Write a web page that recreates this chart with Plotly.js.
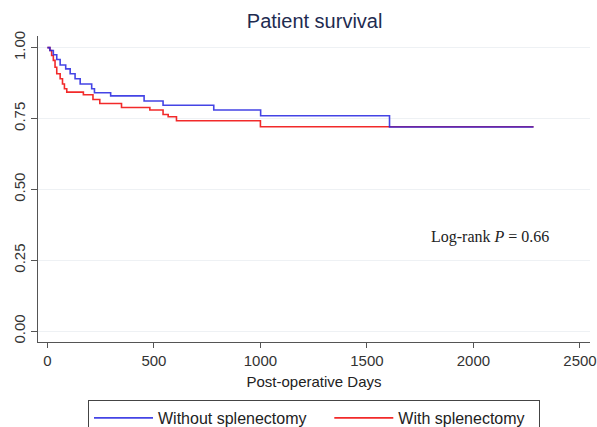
<!DOCTYPE html>
<html>
<head>
<meta charset="utf-8">
<script src="https://cdn.plot.ly/plotly-3.0.1.min.js"></script>
<style>html,body{margin:0;padding:0;background:#fff;}#chart{width:597px;height:427px;}</style>
</head>
<body>
<div id="chart"></div>
<script>
// Kaplan-Meier estimates
const daysWithout = [0, 12, 28, 44, 60, 86, 107, 130, 154, 208, 221, 297, 454, 543, 781, 1001, 1606, 2282];
const survWithout = [1.0, 0.99, 0.975, 0.958, 0.939, 0.925, 0.908, 0.890, 0.872, 0.855, 0.841, 0.830, 0.812, 0.797, 0.780, 0.760, 0.720, 0.720];

const daysWith = [0, 12, 20, 28, 36, 44, 60, 71, 80, 91, 169, 214, 246, 348, 481, 543, 567, 606, 1000, 2282];
const survWith = [1.0, 0.990, 0.972, 0.955, 0.931, 0.908, 0.890, 0.872, 0.855, 0.843, 0.834, 0.817, 0.803, 0.789, 0.780, 0.764, 0.756, 0.742, 0.721, 0.721];

const xTicks = [0, 500, 1000, 1500, 2000, 2500];
const yTicks = [0, 0.25, 0.5, 0.75, 1.0];
const yTickText = ["0.00", "0.25", "0.50", "0.75", "1.00"];

const seriesNames = ["Without splenectomy", "With splenectomy"];

const FONT = "Liberation Sans, Arial, sans-serif";
const NB = "\u00a0";

// red drawn first so the blue curve sits on top where they overlap
const traces = [
  {
    x: daysWith, y: survWith, type: "scatter", mode: "lines",
    name: seriesNames[1] + NB + NB, legendrank: 2,
    line: {shape: "hv", color: "#f22a2a", width: 1.6}
  },
  {
    x: daysWithout, y: survWithout, type: "scatter", mode: "lines",
    name: seriesNames[0] + NB + NB + NB + NB, legendrank: 1,
    line: {shape: "hv", color: "#2323e0", width: 1.6},
    opacity: 0.85
  }
];

const layout = {
  width: 597, height: 427,
  paper_bgcolor: "#ffffff", plot_bgcolor: "#ffffff",
  margin: {l: 38, r: 7, t: 36, b: 85},
  font: {family: FONT, size: 15, color: "#333"},
  title: {
    text: "Patient survival",
    font: {family: FONT, size: 20, color: "#1e2b50"},
    x: 0.527, xanchor: "center", y: 0.95, yanchor: "middle"
  },
  xaxis: {
    range: [-44, 2547],
    tickvals: xTicks,
    ticks: "outside", ticklen: 5, tickcolor: "#555",
    showline: true, linecolor: "#555", linewidth: 1,
    showgrid: false, zeroline: false,
    tickfont: {family: FONT, size: 15, color: "#333"},
    title: {text: "Post-operative Days", font: {family: FONT, size: 15, color: "#222"}, standoff: 8}
  },
  yaxis: {
    range: [-0.038, 1.041],
    tickvals: yTicks, ticktext: yTickText,
    tickangle: -90,
    ticks: "outside", ticklen: 6, tickcolor: "#555",
    showline: true, linecolor: "#555", linewidth: 1,
    showgrid: true, gridcolor: "#eef1f4", gridwidth: 1,
    zeroline: false,
    tickfont: {family: FONT, size: 15, color: "#333"}
  },
  showlegend: true,
  legend: {
    orientation: "h",
    xref: "container", yref: "container",
    x: 88 / 597, xanchor: "left",
    y: 1 - 400 / 427, yanchor: "top",
    bordercolor: "#444", borderwidth: 1,
    bgcolor: "#ffffff",
    font: {family: FONT, size: 16, color: "#222"},
    itemwidth: 59,
    traceorder: "normal"
  },
  annotations: [
    {
      x: 2077, y: 0.332, xref: "x", yref: "y",
      text: "Log-rank <i>P</i> = 0.66",
      showarrow: false,
      font: {family: "Liberation Serif, Times New Roman, serif", size: 16, color: "#222"},
      xanchor: "center", yanchor: "middle"
    }
  ]
};

Plotly.newPlot("chart", traces, layout, {displayModeBar: false, staticPlot: true});
</script>
</body>
</html>
